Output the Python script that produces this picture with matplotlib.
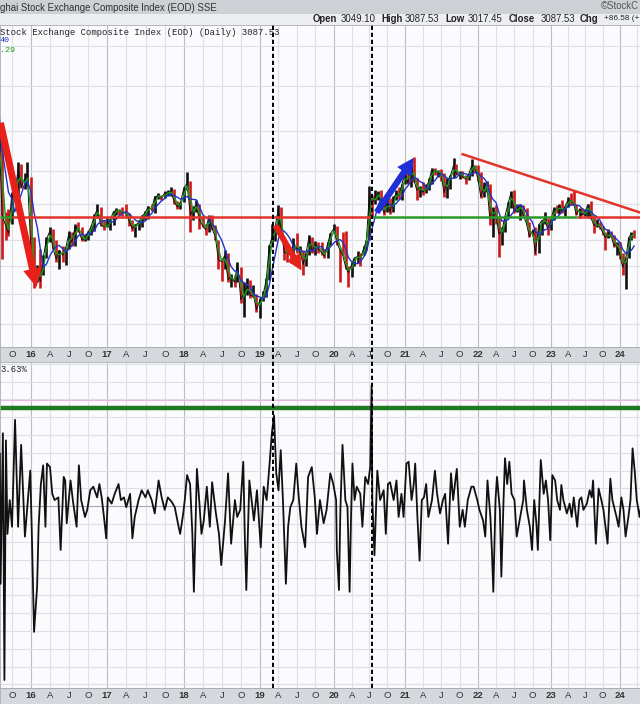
import numpy as np
import pandas as pd
import matplotlib
matplotlib.use("Agg")
import matplotlib.pyplot as plt
from matplotlib.patches import Rectangle, FancyArrowPatch

# ------------------------------------------------------------
# Data (semi-monthly bars, index points)
# ------------------------------------------------------------
warmup_close = [4611, 4967, 4277, 3957, 3664]  # May-Jul 2015, only feeds the MAs

close = [
    3965, 3205, 3115, 3052, 3390, 3382, 3630, 3445, 3520, 3539,
    2900, 2737, 2760, 2688, 2870, 3003, 3070, 2938, 2850, 2917, 2880, 2930,
    3050, 2980, 3110, 3085, 3000, 3005, 3060, 3100, 3200, 3250, 3120, 3104,
    3110, 3159, 3230, 3242, 3240, 3223, 3220, 3155, 3090, 3117, 3140, 3192,
    3220, 3273, 3250, 3360, 3370, 3349, 3390, 3393, 3410, 3317, 3270, 3307,
    3440, 3480, 3200, 3259, 3290, 3169, 3110, 3082, 3190, 3095, 3020, 2847,
    2830, 2876, 2700, 2725, 2680, 2821, 2560, 2602, 2660, 2588, 2590, 2494,
    2560, 2585, 2700, 2941, 3020, 3090, 3250, 3078, 2900, 2898, 2880, 2979,
    2930, 2932, 2810, 2886, 3030, 2905, 2970, 2929, 2900, 2872, 2970, 3050,
    3090, 2976, 2920, 2880, 2790, 2750, 2810, 2860, 2870, 2852, 2930, 2985,
    3380, 3310, 3360, 3395, 3280, 3218, 3330, 3225, 3340, 3390, 3370, 3473,
    3570, 3483, 3650, 3509, 3420, 3441, 3400, 3447, 3500, 3615, 3590, 3591,
    3560, 3397, 3510, 3544, 3650, 3568, 3570, 3547, 3520, 3564, 3650, 3640,
    3520, 3361, 3460, 3462, 3170, 3252, 3210, 3047, 3070, 3186, 3300, 3398,
    3230, 3253, 3280, 3202, 3130, 3024, 3070, 2893, 3120, 3151, 3170, 3089,
    3160, 3255, 3240, 3280, 3230, 3273, 3330, 3323, 3300, 3205, 3250, 3202,
    3230, 3291, 3180, 3119, 3120, 3110, 3060, 3018, 3050, 3030, 2950, 2975,
    2880, 2789, 2860, 3015, 3050, 3040,
]
low = [
    3660, 2850, 3000, 3030, 3130, 3320, 3320, 3440, 3430, 3460,
    2870, 2640, 2680, 2638, 2730, 2860, 2980, 2930, 2830, 2780, 2830, 2810,
    2930, 2950, 2950, 3060, 2990, 2990, 3000, 3040, 3070, 3180, 3110, 3080,
    3100, 3080, 3120, 3200, 3200, 3190, 3190, 3110, 3070, 3020, 3080, 3100,
    3160, 3170, 3240, 3220, 3340, 3330, 3350, 3370, 3370, 3300, 3250, 3250,
    3310, 3420, 3060, 3160, 3230, 3090, 3100, 3040, 3060, 3080, 3000, 2780,
    2690, 2780, 2680, 2650, 2650, 2680, 2540, 2449, 2590, 2570, 2580, 2480,
    2440, 2550, 2580, 2700, 2940, 2990, 3090, 3070, 2840, 2830, 2820, 2870,
    2900, 2880, 2730, 2800, 2880, 2900, 2880, 2900, 2880, 2860, 2860, 2960,
    3050, 2960, 2686, 2880, 2780, 2646, 2720, 2800, 2820, 2800, 2880, 2920,
    3000, 3180, 3300, 3330, 3250, 3200, 3230, 3210, 3230, 3330, 3340, 3330,
    3480, 3480, 3450, 3490, 3330, 3360, 3380, 3390, 3420, 3480, 3560, 3540,
    3500, 3360, 3350, 3430, 3530, 3560, 3520, 3530, 3480, 3510, 3550, 3580,
    3500, 3350, 3360, 3400, 3120, 3023, 3130, 2863, 2955, 3060, 3180, 3260,
    3220, 3230, 3160, 3190, 3120, 3020, 3030, 2885, 2900, 3040, 3130, 3040,
    3080, 3160, 3220, 3210, 3220, 3190, 3270, 3290, 3290, 3200, 3180, 3200,
    3190, 3180, 3170, 3050, 3100, 3090, 3040, 2923, 3010, 3020, 2940, 2882,
    2850, 2730, 2635, 2860, 3000, 3010,
]
high = [
    3990, 4006, 3230, 3250, 3400, 3460, 3680, 3660, 3580, 3680,
    3540, 3020, 2810, 2930, 2880, 3020, 3100, 3090, 3000, 2920, 2950, 2945,
    3070, 3060, 3130, 3140, 3100, 3040, 3070, 3110, 3210, 3300, 3270, 3160,
    3180, 3170, 3240, 3260, 3250, 3270, 3295, 3220, 3160, 3130, 3160, 3200,
    3240, 3280, 3300, 3370, 3390, 3380, 3410, 3420, 3450, 3430, 3320, 3310,
    3450, 3587, 3500, 3280, 3330, 3300, 3190, 3130, 3200, 3200, 3120, 3000,
    2860, 2920, 2900, 2740, 2730, 2830, 2790, 2680, 2710, 2700, 2660, 2600,
    2570, 2620, 2710, 2960, 3130, 3110, 3288, 3270, 3000, 2950, 2900, 3010,
    3050, 2950, 2920, 2900, 3040, 3020, 2990, 2980, 2980, 2930, 2980, 3050,
    3130, 3110, 2930, 3060, 3070, 2800, 2830, 2860, 2910, 2900, 2950, 2995,
    3458, 3380, 3420, 3410, 3425, 3340, 3350, 3350, 3370, 3420, 3450, 3480,
    3600, 3640, 3660, 3731, 3530, 3460, 3490, 3480, 3530, 3625, 3630, 3610,
    3620, 3580, 3530, 3560, 3723, 3660, 3600, 3600, 3560, 3580, 3708, 3650,
    3650, 3590, 3490, 3500, 3480, 3270, 3290, 3190, 3100, 3190, 3310, 3410,
    3424, 3300, 3290, 3290, 3260, 3140, 3090, 3100, 3130, 3160, 3230, 3180,
    3170, 3270, 3290, 3300, 3330, 3280, 3360, 3390, 3418, 3300, 3260, 3260,
    3250, 3300, 3322, 3200, 3170, 3140, 3110, 3060, 3090, 3070, 3040, 2980,
    2980, 2900, 2870, 3020, 3060, 3080,
]

# oscillator (lower panel), time in decimal years / value in %
osc_t = [
    2015.59, 2015.60, 2015.63, 2015.65, 2015.67, 2015.69, 2015.72, 2015.75, 2015.79, 2015.83,
    2015.87, 2015.92, 2015.99, 2016.01, 2016.04, 2016.08, 2016.10, 2016.13, 2016.16, 2016.19,
    2016.21, 2016.25, 2016.28, 2016.31, 2016.36, 2016.39, 2016.43, 2016.45, 2016.47, 2016.52,
    2016.55, 2016.60, 2016.63, 2016.66, 2016.71, 2016.74, 2016.78, 2016.82, 2016.87, 2016.90,
    2016.93, 2016.96, 2016.99, 2017.01, 2017.06, 2017.10, 2017.15, 2017.18, 2017.22, 2017.25,
    2017.30, 2017.33, 2017.36, 2017.41, 2017.45, 2017.50, 2017.53, 2017.58, 2017.62, 2017.67,
    2017.71, 2017.75, 2017.79, 2017.84, 2017.88, 2017.93, 2017.95, 2017.99, 2018.01, 2018.04,
    2018.08, 2018.11, 2018.13, 2018.17, 2018.20, 2018.23, 2018.26, 2018.30, 2018.34, 2018.37,
    2018.42, 2018.46, 2018.49, 2018.54, 2018.58, 2018.62, 2018.67, 2018.70, 2018.74, 2018.78,
    2018.80, 2018.82, 2018.86, 2018.89, 2018.92, 2018.96, 2019.01, 2019.05, 2019.09, 2019.13,
    2019.16, 2019.19, 2019.22, 2019.25, 2019.28, 2019.31, 2019.35, 2019.38, 2019.41, 2019.45,
    2019.49, 2019.52, 2019.56, 2019.61, 2019.65, 2019.70, 2019.74, 2019.77, 2019.81,
    2019.86, 2019.90, 2019.95, 2019.99, 2020.03, 2020.04, 2020.07, 2020.09, 2020.12, 2020.16,
    2020.19, 2020.22, 2020.24, 2020.26, 2020.29, 2020.32, 2020.37, 2020.40, 2020.44, 2020.48,
    2020.51, 2020.53, 2020.54, 2020.57, 2020.61, 2020.65, 2020.70, 2020.73, 2020.76, 2020.79,
    2020.84, 2020.88, 2020.91, 2020.95, 2020.98, 2021.02, 2021.05, 2021.09, 2021.12, 2021.14,
    2021.17, 2021.20, 2021.23, 2021.26, 2021.29, 2021.32, 2021.37, 2021.41, 2021.44, 2021.48,
    2021.52, 2021.55, 2021.59, 2021.63, 2021.66, 2021.69, 2021.71, 2021.75, 2021.79, 2021.82,
    2021.86, 2021.91, 2021.94, 2021.99, 2022.02, 2022.07, 2022.10, 2022.13, 2022.17, 2022.19,
    2022.21, 2022.24, 2022.26, 2022.30, 2022.32, 2022.35, 2022.37, 2022.40, 2022.43, 2022.46,
    2022.50, 2022.53, 2022.57, 2022.62, 2022.63, 2022.67, 2022.71, 2022.74, 2022.77, 2022.80,
    2022.82, 2022.86, 2022.90, 2022.93, 2022.96, 2022.99, 2023.02, 2023.06, 2023.09, 2023.13,
    2023.15, 2023.18, 2023.23, 2023.27, 2023.30, 2023.33, 2023.38, 2023.41, 2023.44, 2023.47,
    2023.52, 2023.56, 2023.59, 2023.61, 2023.65, 2023.69, 2023.73, 2023.76, 2023.82, 2023.86,
    2023.89, 2023.95, 2023.98, 2024.02, 2024.05, 2024.08, 2024.12, 2024.15, 2024.18, 2024.21,
    2024.24, 2024.28, 2024.31,
]
osc_v = [
    5.9, -8.7, 8.2, -19.5, 7.4, -3.1, 0.7, -2.3, 9.7, -2.3,
    6.9, -3.4, 4.0, -2.7, -14.1, -9.1, -2.3, 2.5, 4.6, -2.3,
    4.8, 4.4, 1.4, 0.7, 1.0, -4.9, 3.3, 2.9, -1.9, 2.9,
    0.7, -2.3, 4.6, 0.7, -1.2, -0.4, 1.8, 2.2, 1.0, 2.5,
    1.0, -1.2, -3.6, 1.0, 0.3, 1.4, 2.5, 0.7, 1.0, -0.1,
    1.4, -3.6, -1.2, 0.7, 1.8, 1.0, 1.8, 0.7, -0.8, 2.9,
    1.0, -0.4, 1.0, 0.5, -0.1, -2.3, -3.1, -0.8, 0.7, 3.5,
    2.5, -3.1, -9.6, 4.2, 0.7, -3.1, -1.6, 2.2, -2.3, 2.7,
    -0.8, -3.1, -6.6, -1.6, 3.7, -4.2, 0.7, -1.2, -0.4, 5.0,
    -3.4, -9.4, 2.9, 0.7, -1.6, 1.8, -4.6, 2.2, 0.7, 4.8,
    8.2, 10.2, 3.7, 1.8, 6.3, 0.7, -8.7, -2.3, -0.1, 0.7,
    4.8, 1.4, -2.3, -4.6, 3.3, 4.4, 1.0, -3.1, 0.7,
    -1.9, -0.4, 3.7, 2.5, 0.7, -4.9, -9.4, -0.4, 6.9, 0.7,
    -0.1, -9.6, -1.2, 4.8, 0.7, 2.2, 1.4, -2.3, 3.3, 2.5,
    4.4, 13.6, 0.7, -5.5, 4.0, 0.7, 1.8, -3.1, 2.5, 2.7,
    0.7, 2.9, -1.2, 1.4, -1.2, 4.8, 5.0, 0.7, 2.5, 4.8,
    -1.2, -6.1, 0.7, 1.0, 2.5, -1.2, 0.7, 4.0, 1.4, -0.8,
    0.7, 1.4, -4.2, 3.7, 0.7, 2.9, 4.2, -2.3, -0.4, -2.3,
    0.7, 2.2, 2.2, 0.7, -0.4, -1.6, -3.4, 2.9, -1.2, -4.9,
    -9.6, 0.7, 3.3, -0.4, -7.9, 0.7, 5.4, 2.5, 5.0, 1.4,
    0.7, -3.4, -1.6, 0.7, 2.9, -0.4, -2.3, -4.9, 0.7, -1.9,
    -4.9, 5.2, 1.4, 2.9, 0.7, -3.8, 3.5, 2.9, 0.7, -0.4,
    2.4, 0.7, -0.8, 0.3, -1.2, 1.0, -2.3, 0.7, 1.0, -0.4,
    0.3, 1.8, 1.0, 2.9, -4.2, 2.0, 0.7, -0.4, -4.2, 3.1,
    0.7, -1.2, -2.3, 1.0, -0.4, -3.4, -1.2, 0.7, 6.5, 4.0,
    0.7, -1.2, 0.5,
]

# annotations drawn on the price panel
level = 3185            # horizontal support / resistance line
level_green = [(2015.59, 2015.75), (2020.54, 2023.38)]
level_red = [(2015.75, 2020.54), (2023.38, 2024.29)]
trend_t, trend_p = [2021.79, 2024.29], [3760, 3223]
arrows = [  # (t0, p0, t1, p1, colour, size)
    (2015.59, 4114, 2016.08, 2627, "#e8201a", 1.0),
    (2019.19, 3135, 2019.58, 2748, "#e8201a", 0.85),
    (2020.58, 3205, 2021.14, 3747, "#1f2fd8", 0.9),
]
marks = [2019.18, 2020.54]   # dashed verticals
osc_level, osc_pink = 11.0, 11.9

# the chart runs on trading days, so year widths differ a little
year_knots = [2015, 2016, 2017, 2018, 2019, 2020, 2021, 2022, 2023, 2024, 2025]
year_pos = [-45, 31, 107, 184, 260, 334, 405, 478, 551, 620, 690]

X0, X1 = 2015.592, 2024.286
W, H = 640, 704


def fwd(v):
    return np.interp(v, year_knots, year_pos)


def inv(v):
    return np.interp(v, year_pos, year_knots)


def rect(top, bottom):
    return [0, 1 - bottom / H, 1, (bottom - top) / H]


dates = pd.date_range("2015-08-01", periods=len(close), freq="SMS")
t = np.asarray(dates.year + (dates.dayofyear - 1) / 365.25, dtype=float)
allc = pd.Series(warmup_close + close)
ma50 = allc.rolling(5).mean().values[len(warmup_close):]
ma20 = allc.rolling(2).mean().values[len(warmup_close):]
close = np.array(close)
prev = np.r_[warmup_close[-1], close[:-1]]
bar_col = np.where(close >= prev, "#111111", "#d01818")

fig = plt.figure(figsize=(6.4, 7.04), dpi=100)
fig.patch.set_facecolor("white")

# header strips and axis bands (behind the axes)
fig.patches.append(Rectangle((0, 1 - 14 / H), 1, 14 / H, transform=fig.transFigure,
                             facecolor="#cdd0d5", edgecolor="none", zorder=-5))
fig.patches.append(Rectangle((0, 1 - 25 / H), 1, 11 / H, transform=fig.transFigure,
                             facecolor="#eceef1", edgecolor="none", zorder=-5))
for top, bot in [(347, 362), (688, 704)]:
    fig.patches.append(Rectangle((0, 1 - bot / H), 1, (bot - top) / H, transform=fig.transFigure,
                                 facecolor="#d5d8dd", edgecolor="#a9adb4", lw=0.6, zorder=-5))

hfont = "Liberation Sans"
fig.text(0, 1 - 8 / H, "ghai Stock Exchange Composite Index (EOD) SSE", family=hfont,
         fontsize=6.9, color="#303030", va="center", ha="left")
fig.text(639 / W, 1 - 6 / H, "\u00a9StockC", family=hfont, fontsize=6.9, color="#555555",
         va="center", ha="right")
pieces = [(313, "Open", True), (341, "3049.10", False), (381, "High", True),
          (405, "3087.53", False), (445, "Low", True), (468, "3017.45", False),
          (509, "Close", True), (541, "3087.53", False), (580, "Chg", True)]
for xp, s, b in pieces:
    fig.text(xp / W, 1 - 19 / H, s, family=hfont, fontsize=6.9, color="#222222",
             fontweight="bold" if b else "normal", va="center", ha="left")
fig.text(639 / W, 1 - 19 / H, "+86.58 (+", family=hfont, fontsize=5.9, color="#222222",
         va="center", ha="right")

ticks = np.arange(2015.75, 2024.3, 0.25)
lab_ticks = ticks[ticks < 2024.1]
tick_labels = []
for tk in lab_ticks:
    frac = round(tk % 1, 2)
    tick_labels.append({0.0: f"{int(round(tk)) % 100}", 0.25: "A", 0.5: "J", 0.75: "O"}[frac])

grid_c, year_c = "#dde0e7", "#b9bdc6"


def style_axes(ax):
    ax.set_xscale("function", functions=(fwd, inv))
    ax.set_facecolor("#fbfbfd")
    ax.set_xlim(X0, X1)
    for tk in ticks:
        ax.axvline(tk, color=year_c if round(tk % 1, 2) == 0 else grid_c, lw=0.8, zorder=0)
    ax.set_xticks(lab_ticks)
    ax.set_xticklabels(tick_labels)
    ax.xaxis.set_minor_locator(matplotlib.ticker.NullLocator())
    ax.tick_params(axis="x", length=0, pad=2.2, labelsize=6.8, labelcolor="#333333")
    for lab, tk in zip(ax.get_xticklabels(), lab_ticks):
        lab.set_family(hfont)
        if round(tk % 1, 2) == 0:
            lab.set_fontweight("bold")
    ax.tick_params(axis="y", length=0, labelleft=False)
    for sp in ax.spines.values():
        sp.set_color("#a9adb4")
        sp.set_linewidth(0.6)


# ------------------------------------------------------------
# Price panel
# ------------------------------------------------------------
ax1 = fig.add_axes(rect(25, 347))
ax1.set_yscale("log")
ax1.set_ylim(2260, 5289)
style_axes(ax1)
ax1.yaxis.set_minor_locator(matplotlib.ticker.NullLocator())
for lv in [2400, 2600, 2800, 3000, 3300, 3600, 4000, 4500, 5000]:
    ax1.axhline(lv, color=grid_c, lw=0.8, zorder=0)
ax1.set_yticks([])

ax1.vlines(t, low, high, colors=bar_col, lw=1.9, zorder=3)
ax1.plot(t, close, color="#111111", lw=0.7, zorder=3)
ax1.plot(t, ma20, color="#1a9a1a", lw=1.0, zorder=4)
ax1.plot(t, ma50, color="#2233c8", lw=1.0, zorder=4)

for a, b in level_red:
    ax1.plot([a, b], [level, level], color="#e3342b", lw=1.8, zorder=5, solid_capstyle="butt")
for a, b in level_green:
    ax1.plot([a, b], [level, level], color="#2a9a2a", lw=1.8, zorder=5, solid_capstyle="butt")
ax1.plot(trend_t, trend_p, color="#e3342b", lw=1.8, zorder=5)
for t0, p0, t1, p1, col, s in arrows:
    ax1.add_patch(FancyArrowPatch((t0, p0), (t1, p1), arrowstyle=
                                  f"simple,head_length={0.75*s},head_width={0.75*s},tail_width={0.28*s}",
                                  mutation_scale=18, color=col, lw=0, zorder=6))

ax1.text(0, 0.992, "Stock Exchange Composite Index (EOD) (Daily) 3087.53", transform=ax1.transAxes,
         family="Liberation Mono", fontsize=6.4, color="#222222", va="top", ha="left", zorder=7)
ax1.text(0, 0.962, "40", transform=ax1.transAxes, family="Liberation Mono", fontsize=6.0,
         color="#2233c8", va="top", ha="left", zorder=7)
ax1.text(0, 0.931, ".29", transform=ax1.transAxes, family="Liberation Mono", fontsize=6.0,
         color="#1a9a1a", va="top", ha="left", zorder=7)

# ------------------------------------------------------------
# Oscillator panel
# ------------------------------------------------------------
ax2 = fig.add_axes(rect(362, 688))
ax2.set_ylim(-20.4, 16.2)
style_axes(ax2)
for lv in np.arange(-20, 17, 2):
    ax2.axhline(lv, color="#a5a8ae" if lv == 0 else grid_c, lw=0.8, zorder=0)
ax2.set_yticks([])
ax2.axhline(osc_pink, color="#e9b8dc", lw=0.8, zorder=1)
ax2.axhline(osc_level, color="#1f7a1f", lw=3.2, zorder=2)
ax2.plot(osc_t, osc_v, color="#111111", lw=1.3, zorder=3)
ax2.text(0, 0.99, "3.63%", transform=ax2.transAxes, family="Liberation Mono", fontsize=6.4,
         color="#222222", va="top", ha="left")

# dashed markers crossing both panels
ax3 = fig.add_axes(rect(25, 688))
ax3.set_xscale("function", functions=(fwd, inv))
ax3.set_xlim(X0, X1)
ax3.axis("off")
for m in marks:
    ax3.axvline(m, color="black", lw=1.4, ls=(0, (2.2, 1.4)))

fig.savefig("out.png", dpi=100)
